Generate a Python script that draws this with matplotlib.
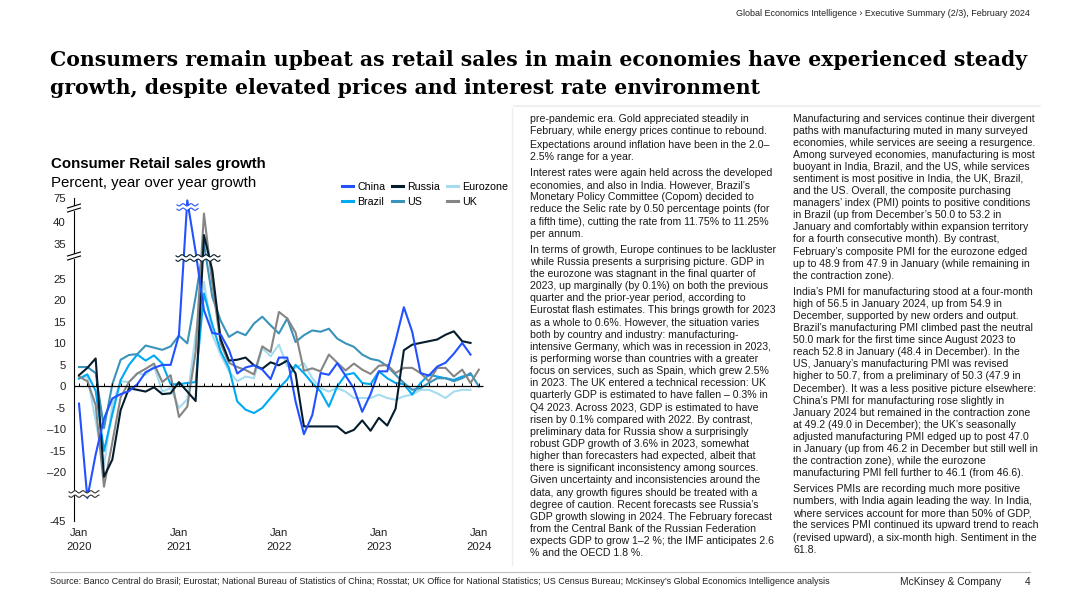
import matplotlib.pyplot as plt
from matplotlib.patches import Polygon, Rectangle
import numpy as np

plt.rcParams['font.family'] = ['Liberation Sans', 'DejaVu Sans']

W, H = 1080, 608

# ---- data: retail sales growth, % yoy, Jan 2020 .. Jan 2024 ----
months = np.arange(49)
year_ticks = [0, 12, 24, 36, 48]
year_labels = ['Jan\n2020', 'Jan\n2021', 'Jan\n2022', 'Jan\n2023', 'Jan\n2024']
nan = np.nan

china = [-4.0, -28.0, -15.8, -7.5, -2.8, -1.8, -1.1, 0.5, 3.3, 4.3, 5.0, 5.0,
         12.0, 68.0, 32.0, 17.7, 12.4, 12.1, 8.5, 3.0, 4.4, 4.9, 3.9, 1.7,
         6.7, 6.7, -3.5, -11.1, -6.7, 3.1, 2.7, 5.4, 2.5, -0.5, -5.9, -1.8,
         3.5, 3.5, 10.6, 18.4, 12.7, 3.1, 2.5, 4.6, 5.5, 7.6, 10.1, 7.4, nan]
russia = [2.6, 4.3, 6.5, -21.0, -17.0, -5.5, -0.4, -0.8, -1.2, -0.2, -1.8, -1.6,
          1.0, -1.2, -3.4, 37.0, 27.0, 11.0, 6.0, 6.2, 6.7, 4.9, 4.1, 5.6,
          4.9, 6.0, 3.0, -9.3, -9.3, -9.3, -9.3, -9.3, -10.9, -10.1, -7.9, -10.3,
          -7.3, -9.1, -5.2, 8.4, 9.7, 10.1, 10.5, 10.9, 12.0, 12.8, 10.5, 10.1, nan]
eurozone = [1.9, 2.3, -8.0, -18.5, -4.3, 1.2, 1.0, 3.1, 2.7, 4.7, -1.2, -0.4,
            -5.0, -3.0, 12.0, 24.3, 12.0, 7.4, 3.5, 1.2, 2.3, 1.9, 8.9, 7.0,
            9.7, 4.7, 4.3, 5.4, 1.9, -0.4, -1.2, -0.4, -1.2, -2.7, -2.7, -2.7,
            -1.9, -2.7, -3.1, -2.3, -1.9, -0.8, -0.8, -1.6, -2.7, -1.2, -0.8, -0.8, nan]
brazil = [1.8, 2.8, -1.0, -15.0, -6.5, 1.5, 5.0, 7.4, 6.0, 7.2, 5.3, 0.5,
          0.5, 0.8, 1.0, 21.6, 14.4, 8.2, 4.3, -3.5, -5.4, -6.2, -5.0, -2.7,
          -0.4, 1.6, 5.0, 3.1, 0.8, -1.2, -4.7, 0.0, 2.7, 3.1, 0.8, 0.5,
          3.5, 1.9, 0.8, 0.5, -1.9, 0.8, 2.7, 2.3, 1.9, 1.5, 2.3, 2.7, nan]
us = [4.5, 4.5, 3.1, -9.7, 0.5, 6.2, 7.3, 7.5, 9.5, 9.0, 8.5, 9.3,
      11.8, 10.0, 20.8, 35.0, 20.8, 15.3, 11.5, 12.7, 11.9, 14.6, 16.2, 14.2,
      12.3, 15.8, 10.3, 11.9, 13.0, 12.7, 13.4, 11.1, 10.0, 9.2, 7.4, 6.4,
      6.0, 4.7, 2.7, 0.8, -0.8, -0.4, 0.8, 1.9, 1.9, 1.2, 1.9, 3.1, 0.0]
uk = [2.3, 1.2, -4.3, -23.3, -13.0, -2.5, 1.0, 3.0, 4.1, 5.3, 1.0, 2.6,
      -7.1, -4.7, 8.0, 41.8, 24.0, 10.0, 5.5, 4.5, 3.8, 2.8, 9.3, 8.0,
      17.3, 15.8, 12.5, 3.6, 4.2, 3.5, 7.4, 5.5, 3.7, 5.3, 3.9, 2.9,
      4.8, 5.0, 3.1, 4.3, 4.3, 3.1, 1.2, 4.3, 4.3, 2.3, 3.9, 0.8, 3.9]

y_ticks = [-45, -20, -15, -10, -5, 0, 5, 10, 15, 20, 25, 35, 40, 75]
y_labels = ['-45', '–20', '-15', '–10', '-5', '0', '5', '10', '15', '20', '25', '35', '40', '75']

# broken y axis: value -> height in px above the bottom of the plot
AX_L, AX_R, AX_T, AX_B = 74, 490, 198.3, 521
scale_vals = [-45, -25, 30.3, 35, 40, 43, 75]
scale_px = [521, 494, 256, 244, 221.7, 208, 198.3]
scale_h = [AX_B - p for p in scale_px]


def fwd(v):
    return np.interp(v, scale_vals, scale_h)


def inv(h):
    return np.interp(h, scale_h, scale_vals)


def fx(x):
    return x / W


def fy(y):
    return 1 - y / H


def axx(x):
    return (x - AX_L) / (AX_R - AX_L)


def axy(y):
    return (AX_B - y) / (AX_B - AX_T)


def wave_break(ax, x0, x1, yc, color, gap=2.2, amp=1.1, period=8.0):
    """double wavy break line with white gap, coords in px"""
    xs = np.linspace(x0, x1, 80)
    w = amp * np.sin(2 * np.pi * (xs - x0) / period)
    y1 = yc - gap + w
    y2 = yc + gap + w
    pts = np.c_[np.r_[axx(xs), axx(xs[::-1])], np.r_[axy(y1), axy(y2[::-1])]]
    ax.add_patch(Polygon(pts, closed=True, facecolor='white', edgecolor='none',
                         transform=ax.transAxes, clip_on=False, zorder=5))
    for yy in (y1, y2):
        ax.plot(axx(xs), axy(yy), color=color, lw=0.8, transform=ax.transAxes,
                clip_on=False, zorder=6)


def slash_break(ax, yc):
    """two slanted strokes across the y axis, px coords"""
    ax.add_patch(Rectangle((axx(AX_L - 2), axy(yc + 2.5)), axx(AX_L + 2) - axx(AX_L - 2),
                           axy(yc - 2.5) - axy(yc + 2.5), facecolor='white',
                           edgecolor='none', transform=ax.transAxes, clip_on=False, zorder=5))
    for off in (-2.0, 2.0):
        ax.plot([axx(AX_L - 6.5), axx(AX_L + 6.5)], [axy(yc + off + 2), axy(yc + off - 2)],
                color='black', lw=0.8, transform=ax.transAxes, clip_on=False, zorder=6)


fig = plt.figure(figsize=(W / 100, H / 100), dpi=100)
fig.patch.set_facecolor('white')

# header / title
fig.text(fx(1030), fy(13), 'Global Economics Intelligence › Executive Summary (2/3), February 2024',
         ha='right', va='center', fontsize=6.5, color='#222222')
fig.text(fx(50), fy(60), 'Consumers remain upbeat as retail sales in main economies have experienced steady',
         ha='left', va='center', fontsize=14.7, weight='bold', family='DejaVu Serif')
fig.text(fx(50), fy(88), 'growth, despite elevated prices and interest rate environment',
         ha='left', va='center', fontsize=14.7, weight='bold', family='DejaVu Serif')

# chart
fig.text(fx(51), fy(164), 'Consumer Retail sales growth', ha='left', va='center',
         fontsize=10.8, weight='bold')
fig.text(fx(51), fy(183), 'Percent, year over year growth', ha='left', va='center', fontsize=10.8)

ax = fig.add_axes([fx(AX_L), fy(AX_B), (AX_R - AX_L) / W, (AX_B - AX_T) / H])
ax.set_yscale('function', functions=(fwd, inv))

series = [
    ('Eurozone', eurozone, '#A5DCF0'),
    ('Brazil', brazil, '#00A9F4'),
    ('US', us, '#3A93BA'),
    ('UK', uk, '#858585'),
    ('Russia', russia, '#051C2C'),
    ('China', china, '#2251FF'),
]
lines = {}
for name, vals, color in series:
    ln, = ax.plot(months, vals, color=color, lw=1.5, label=name, zorder=3)
    lines[name] = ln

ax.hlines(0, -0.6, 48.5, color='black', lw=0.9, zorder=4)
ax.vlines(months, 0, 0.9, color='black', lw=0.7, zorder=4)

ax.set_xlim((AX_L - 79) / 8.33, (AX_R - 79) / 8.33)
ax.set_ylim(-45, 75)
ax.set_yticks(y_ticks, y_labels)
ax.set_xticks(year_ticks, year_labels)
for lbl in ax.get_xticklabels():
    lbl.set_linespacing(1.55)
ax.tick_params(axis='both', length=0, labelsize=8.2, colors='#222222')
ax.tick_params(axis='y', pad=6)
ax.tick_params(axis='x', pad=5)
for s in ('top', 'right', 'bottom'):
    ax.spines[s].set_visible(False)
ax.spines['left'].set_linewidth(0.8)

# axis breaks
slash_break(ax, 208)
slash_break(ax, 256)
wave_break(ax, 177, 198, 207, '#2251FF')
wave_break(ax, 176, 220, 258, '#051C2C')
wave_break(ax, 69, 99, 494, '#333333')

order = ['China', 'Brazil', 'Russia', 'US', 'Eurozone', 'UK']
leg = fig.legend([lines[n] for n in order], order, ncol=3, loc='upper left',
                 bbox_to_anchor=(fx(342), fy(182)), frameon=False, fontsize=7.7,
                 handlelength=1.0, handletextpad=0.45, columnspacing=0.6,
                 labelspacing=0.45, borderpad=0, borderaxespad=0)
for h in leg.legend_handles:
    h.set_linewidth(2.2)

# separators
fig.add_artist(plt.Line2D([fx(512), fx(512)], [fy(108), fy(565)], color='#EEEEEE', lw=1.0))
fig.add_artist(plt.Line2D([fx(514), fx(1040)], [fy(106), fy(106)], color='#EEEEEE', lw=1.2))
fig.add_artist(plt.Line2D([fx(50), fx(1030)], [fy(572), fy(572)], color='#BDBDBD', lw=0.8))

# text columns
col1 = [
    ['pre-pandemic era. Gold appreciated steadily in',
     'February, while energy prices continue to rebound.'],
    ['Expectations around inflation have been in the 2.0–',
     '2.5% range for a year.'],
    ['Interest rates were again held across the developed',
     'economies, and also in India. However, Brazil’s',
     'Monetary Policy Committee (Copom) decided to',
     'reduce the Selic rate by 0.50 percentage points (for',
     'a fifth time), cutting the rate from 11.75% to 11.25%',
     'per annum.'],
    ['In terms of growth, Europe continues to be lackluster',
     'while Russia presents a surprising picture. GDP in',
     'the eurozone was stagnant in the final quarter of',
     '2023, up marginally (by 0.1%) on both the previous',
     'quarter and the prior-year period, according to',
     'Eurostat flash estimates. This brings growth for 2023',
     'as a whole to 0.6%. However, the situation varies',
     'both by country and industry: manufacturing-',
     'intensive Germany, which was in recession in 2023,',
     'is performing worse than countries with a greater',
     'focus on services, such as Spain, which grew 2.5%',
     'in 2023. The UK entered a technical recession: UK',
     'quarterly GDP is estimated to have fallen – 0.3% in',
     'Q4 2023. Across 2023, GDP is estimated to have',
     'risen by 0.1% compared with 2022. By contrast,',
     'preliminary data for Russia show a surprisingly',
     'robust GDP growth of 3.6% in 2023, somewhat',
     'higher than forecasters had expected, albeit that',
     'there is significant inconsistency among sources.',
     'Given uncertainty and inconsistencies around the',
     'data, any growth figures should be treated with a',
     'degree of caution. Recent forecasts see Russia’s',
     'GDP growth slowing in 2024. The February forecast',
     'from the Central Bank of the Russian Federation',
     'expects GDP to grow 1–2 %; the IMF anticipates 2.6',
     '% and the OECD 1.8 %.'],
]
col2 = [
    ['Manufacturing and services continue their divergent',
     'paths with manufacturing muted in many surveyed',
     'economies, while services are seeing a resurgence.',
     'Among surveyed economies, manufacturing is most',
     'buoyant in India, Brazil, and the US, while services',
     'sentiment is most positive in India, the UK, Brazil,',
     'and the US. Overall, the composite purchasing',
     'managers’ index (PMI) points to positive conditions',
     'in Brazil (up from December’s 50.0 to 53.2 in',
     'January and comfortably within expansion territory',
     'for a fourth consecutive month). By contrast,',
     'February’s composite PMI for the eurozone edged',
     'up to 48.9 from 47.9 in January (while remaining in',
     'the contraction zone).'],
    ['India’s PMI for manufacturing stood at a four-month',
     'high of 56.5 in January 2024, up from 54.9 in',
     'December, supported by new orders and output.',
     'Brazil’s manufacturing PMI climbed past the neutral',
     '50.0 mark for the first time since August 2023 to',
     'reach 52.8 in January (48.4 in December). In the',
     'US, January’s manufacturing PMI was revised',
     'higher to 50.7, from a preliminary of 50.3 (47.9 in',
     'December). It was a less positive picture elsewhere:',
     'China’s PMI for manufacturing rose slightly in',
     'January 2024 but remained in the contraction zone',
     'at 49.2 (49.0 in December); the UK’s seasonally',
     'adjusted manufacturing PMI edged up to post 47.0',
     'in January (up from 46.2 in December but still well in',
     'the contraction zone), while the eurozone',
     'manufacturing PMI fell further to 46.1 (from 46.6).'],
    ['Services PMIs are recording much more positive',
     'numbers, with India again leading the way. In India,',
     'where services account for more than 50% of GDP,',
     'the services PMI continued its upward trend to reach',
     '(revised upward), a six-month high. Sentiment in the',
     '61.8.'],
]


def draw_column(x, paras, y0, step, gaps):
    y = y0
    for i, para in enumerate(paras):
        if i > 0:
            y += gaps[i - 1]
        for line in para:
            fig.text(fx(x), fy(y), line, ha='left', va='center', fontsize=7.55, color='#1A1A1A')
            y += step


draw_column(530, col1, 118.5, 12.15, [2.0, 3.8, 3.8])
draw_column(793, col2, 118.5, 12.1, [3.8, 3.8])

# footer
fig.text(fx(50), fy(581), 'Source: Banco Central do Brasil; Eurostat; National Bureau of Statistics of China; '
         'Rosstat; UK Office for National Statistics; US Census Bureau; McKinsey’s Global Economics '
         'Intelligence analysis', ha='left', va='center', fontsize=6.5, color='#222222')
fig.text(fx(900), fy(582), 'McKinsey & Company', ha='left', va='center', fontsize=7.4, color='#222222')
fig.text(fx(1030), fy(582), '4', ha='right', va='center', fontsize=7.4, color='#222222')

fig.savefig('out.png', dpi=100, facecolor='white')
